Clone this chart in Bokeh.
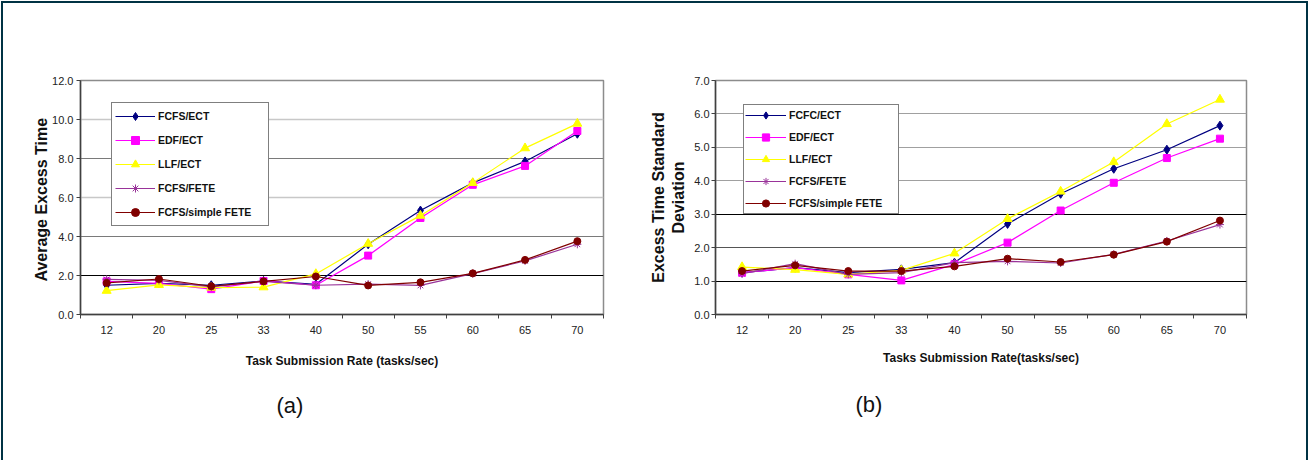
from bokeh.plotting import figure
from bokeh.models import (Range1d, LinearAxis, FixedTicker, Grid, Title,
                          Legend, LegendItem, NumeralTickFormatter)
from bokeh.layouts import row
from bokeh.embed import file_html
from bokeh.resources import INLINE

# Task submission rates (tasks/sec)
rates = ["12", "20", "25", "33", "40", "50", "55", "60", "65", "70"]

# (a) Average excess time
avg_fcfs_ect = [1.5, 1.6, 1.5, 1.72, 1.55, 3.6, 5.33, 6.75, 7.85, 9.27]
avg_edf_ect = [1.7, 1.6, 1.3, 1.72, 1.5, 3.02, 4.95, 6.65, 7.62, 9.41]
avg_llf_ect = [1.22, 1.52, 1.38, 1.4, 2.08, 3.63, 5.07, 6.75, 8.53, 9.79]
avg_fcfs_fete = [1.8, 1.75, 1.42, 1.7, 1.5, 1.56, 1.49, 2.1, 2.75, 3.6]
avg_fcfs_simple = [1.62, 1.82, 1.45, 1.7, 1.95, 1.49, 1.65, 2.11, 2.8, 3.76]

# (b) Excess time standard deviation
sd_fcfc_ect = [1.25, 1.4, 1.25, 1.35, 1.55, 2.71, 3.61, 4.36, 4.93, 5.65]
sd_edf_ect = [1.25, 1.4, 1.2, 1.02, 1.5, 2.15, 3.11, 3.94, 4.68, 5.26]
sd_llf_ect = [1.42, 1.34, 1.2, 1.32, 1.83, 2.86, 3.68, 4.56, 5.7, 6.43]
sd_fcfs_fete = [1.22, 1.52, 1.2, 1.25, 1.55, 1.59, 1.54, 1.8, 2.2, 2.69]
sd_fcfs_simple = [1.3, 1.47, 1.3, 1.3, 1.44, 1.67, 1.57, 1.79, 2.18, 2.81]

names_a = ["FCFS/ECT", "EDF/ECT", "LLF/ECT", "FCFS/FETE", "FCFS/simple FETE"]
names_b = ["FCFC/ECT", "EDF/ECT", "LLF/ECT", "FCFS/FETE", "FCFS/simple FETE"]

colors = ["#000080", "#FF00FF", "#FFFF00", "#993399", "#800000"]
markers = ["diamond", "square", "triangle", "asterisk", "circle"]
marker_sizes = [9, 7, 9, 8, 7]

FONT = "'Liberation Sans', Arial, sans-serif"

# each rate occupies one unit-wide slot on the x axis
n = len(rates)
slot_centres = [i + 0.5 for i in range(n)]


def build(series, names, y_end, y_step, grid_styles, width, height, borders,
          ylabel, ylabel_size, ylabel_standoff, ylab_standoff, xlabel, xlabel_standoff,
          legend_box, tag, tag_offset, tag_standoff):
    left, right, top, bottom = borders
    p = figure(width=width, height=height,
               x_range=Range1d(0, n), y_range=Range1d(0, y_end),
               x_axis_location=None,
               output_backend="svg", toolbar_location=None,
               min_border_left=left, min_border_right=right,
               min_border_top=top, min_border_bottom=bottom,
               background_fill_color="white", border_fill_color="white")
    p.outline_line_color = "#8c8c8c"
    p.outline_line_width = 1.5
    p.xgrid.grid_line_color = None
    p.ygrid.grid_line_color = None

    for ticks, col, w in grid_styles:
        p.add_layout(Grid(dimension=1, ticker=FixedTicker(ticks=ticks),
                          grid_line_color=col, grid_line_width=w))

    # y axis
    ya = p.yaxis[0]
    ya.ticker = FixedTicker(ticks=[i * y_step for i in range(int(round(y_end / y_step)) + 1)])
    ya.formatter = NumeralTickFormatter(format="0.0")
    ya.axis_line_color = "#404040"
    ya.axis_line_width = 1.5
    ya.major_tick_line_color = "#404040"
    ya.major_tick_out = 4
    ya.major_tick_in = 0
    ya.minor_tick_line_color = None
    ya.major_label_standoff = ylab_standoff
    ya.major_label_text_font = FONT
    ya.major_label_text_font_size = "11px"
    ya.major_label_text_color = "#222222"
    ya.axis_label = ylabel
    ya.axis_label_text_font = FONT
    ya.axis_label_text_font_style = "bold"
    ya.axis_label_text_font_size = ylabel_size
    ya.axis_label_text_color = "#111111"
    ya.axis_label_standoff = ylabel_standoff

    # x axis: rate labels centred in each slot, ticks on slot boundaries
    xa = LinearAxis()
    xa.ticker = FixedTicker(ticks=slot_centres,
                            minor_ticks=[float(i) for i in range(n + 1)])
    xa.major_label_overrides = {c: r for c, r in zip(slot_centres, rates)}
    xa.axis_line_color = "#404040"
    xa.axis_line_width = 1.5
    xa.major_tick_line_color = None
    xa.major_tick_out = 4
    xa.major_tick_in = 0
    xa.minor_tick_line_color = "#404040"
    xa.minor_tick_out = 4
    xa.minor_tick_in = 0
    xa.major_label_standoff = 7
    xa.major_label_text_font = FONT
    xa.major_label_text_font_size = "11px"
    xa.major_label_text_color = "#222222"
    xa.axis_label = xlabel
    xa.axis_label_text_font = FONT
    xa.axis_label_text_font_style = "bold"
    xa.axis_label_text_font_size = "12px"
    xa.axis_label_text_color = "#111111"
    xa.axis_label_standoff = xlabel_standoff
    p.add_layout(xa, "below")

    items = []
    for vals, name, col, mk, ms in zip(series, names, colors, markers, marker_sizes):
        lr = p.line(slot_centres, vals, line_color=col, line_width=1.2)
        sr = p.scatter(slot_centres, vals, marker=mk, size=ms, fill_color=col,
                       line_color=col, line_width=1)
        items.append(LegendItem(label=name, renderers=[lr, sr]))

    vx, vy, pad, gh, sp, gw, ls, lw = legend_box
    leg = Legend(items=items, location=(vx, vy), margin=0, padding=pad,
                 glyph_height=gh, label_height=gh, spacing=sp,
                 glyph_width=gw, label_standoff=ls, label_width=lw,
                 border_line_color="black", border_line_width=1,
                 background_fill_color="white", background_fill_alpha=1,
                 label_text_font=FONT, label_text_font_style="bold",
                 label_text_font_size="10.5px", label_text_color="#111111")
    p.add_layout(leg)

    # panel tag under the axis title
    p.add_layout(Title(text=tag, align="left", offset=tag_offset, standoff=tag_standoff,
                       text_font=FONT, text_font_style="normal", text_font_size="22px",
                       text_color="#111111"), "below")
    return p


pa = build([avg_fcfs_ect, avg_edf_ect, avg_llf_ect, avg_fcfs_fete, avg_fcfs_simple],
           names_a, 12, 2,
           [([2], "#000000", 1), ([4, 8], "#7a7a7a", 1), ([6, 10], "#c8c8c8", 1.5)],
           617, 457, (77, 17, 70, 145),
           "Average  Excess Time", "16px", -1, 3,
           "Task Submission Rate (tasks/sec)", 17,
           (31, 88, 3, 20, 4, 40, 3, 107), "(a)", 196, 40)

pb = build([sd_fcfc_ect, sd_edf_ect, sd_llf_ect, sd_fcfs_fete, sd_fcfs_simple],
           names_b, 7, 1,
           [([1, 3], "#000000", 1), ([2], "#555555", 1), ([4, 5, 6], "#a0a0a0", 1)],
           686, 457, (95, 60, 77, 146),
           "Excess Time Standard\nDeviation", "16px", 4, 2,
           "Tasks Submission Rate(tasks/sec)", 14,
           (28, 100, 1, 18, 4, 41, 3, 108), "(b)", 140, 44)

layout = row(pa, pb, styles={"margin": "1px 0 0 1px",
                             "border-top": "2px solid #003344",
                             "border-left": "2px solid #003344",
                             "border-right": "2px solid #003344"})

open("out.html", "w").write(file_html(layout, INLINE))
